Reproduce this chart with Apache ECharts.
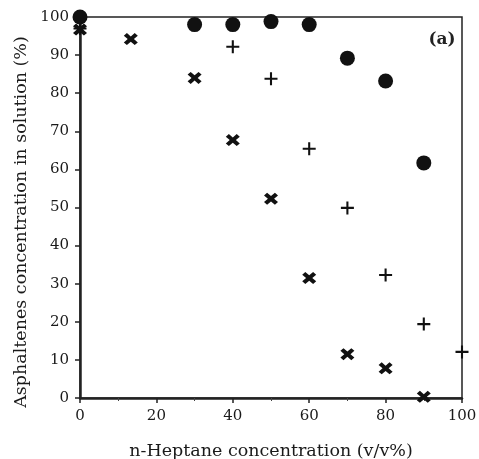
<!DOCTYPE html>
<html><head><meta charset="utf-8">
<script src="https://cdn.jsdelivr.net/npm/echarts@6/dist/echarts.min.js"></script>
<style>html,body{margin:0;padding:0;background:#fff}#c{width:479px;height:459px}</style>
</head><body><div id="c"></div>
<script>
const circleData = [[0,100],[30,98],[40,98],[50,98.8],[60,98],[70,89.2],[80,83.2],[90,61.7]];
const plusData = [[0,97],[40,92.2],[50,83.8],[60,65.4],[70,49.9],[80,32.3],[90,19.4],[100,12.1]];
const crossData = [[0,96.7],[13.3,94.2],[30,84],[40,67.7],[50,52.3],[60,31.5],[70,11.5],[80,7.8],[90,0.3]];
const xName = 'n-Heptane concentration (v/v%)';
const yName = 'Asphaltenes concentration in solution (%)';
const panelLabel = '(a)';

const font = 'DejaVu Serif';
const chart = echarts.init(document.getElementById('c'));
chart.setOption({
  animation: false,
  backgroundColor: '#fff',
  grid: {left: 80, top: 17, right: 17, bottom: 61, outerBoundsMode: 'none', containLabel: false, show: true, borderColor: '#222', borderWidth: 1.5},
  graphic: [
    {type: 'text', x: 442, y: 40, style: {text: panelLabel, font: 'bold 17px "DejaVu Serif"', fill: '#222', align: 'center', verticalAlign: 'middle'}},
    {type: 'text', x: 21, y: 222, rotation: Math.PI / 2, style: {text: yName, font: '17.5px "DejaVu Serif"', fill: '#1a1a1a', align: 'center', verticalAlign: 'middle'}}
  ],
  xAxis: {
    type: 'value', min: 0, max: 100, interval: 20,
    name: xName, nameLocation: 'middle', nameGap: 44,
    nameTextStyle: {fontFamily: font, fontSize: 17.5, color: '#1a1a1a'},
    axisLine: {show: true, onZero: false, lineStyle: {color: '#222', width: 2.5}},
    axisTick: {show: true, length: 5, lineStyle: {color: '#222', width: 1.5}},
    minorTick: {show: true, splitNumber: 2, length: 3, lineStyle: {color: '#444'}},
    axisLabel: {fontFamily: font, fontSize: 15, color: '#1a1a1a', margin: 11},
    splitLine: {show: false}
  },
  yAxis: {
    type: 'value', min: 0, max: 100, interval: 10,
    axisLine: {show: true, onZero: false, lineStyle: {color: '#222', width: 2.5}},
    axisTick: {show: true, length: 5, lineStyle: {color: '#222', width: 1.5}},
    axisLabel: {fontFamily: font, fontSize: 15, color: '#1a1a1a', margin: 11},
    splitLine: {show: false}
  },
  series: [
    {type: 'scatter', data: circleData, symbol: 'circle', symbolSize: 15, clip: false, itemStyle: {color: '#111', opacity: 1}},
    {type: 'scatter', data: plusData, symbol: 'path://M4.2,0 H5.8 V4.2 H10 V5.8 H5.8 V10 H4.2 V5.8 H0 V4.2 H4.2 Z', symbolSize: 13, clip: false, itemStyle: {color: '#111', opacity: 1}},
    {type: 'scatter', data: crossData, symbol: 'path://M0,2.2 L2.2,0 L5,2.8 L7.8,0 L10,2.2 L7.2,5 L10,7.8 L7.8,10 L5,7.2 L2.2,10 L0,7.8 L2.8,5 Z', symbolSize: [14, 12], clip: false, itemStyle: {color: '#111', opacity: 1}}
  ]
});
</script></body></html>
